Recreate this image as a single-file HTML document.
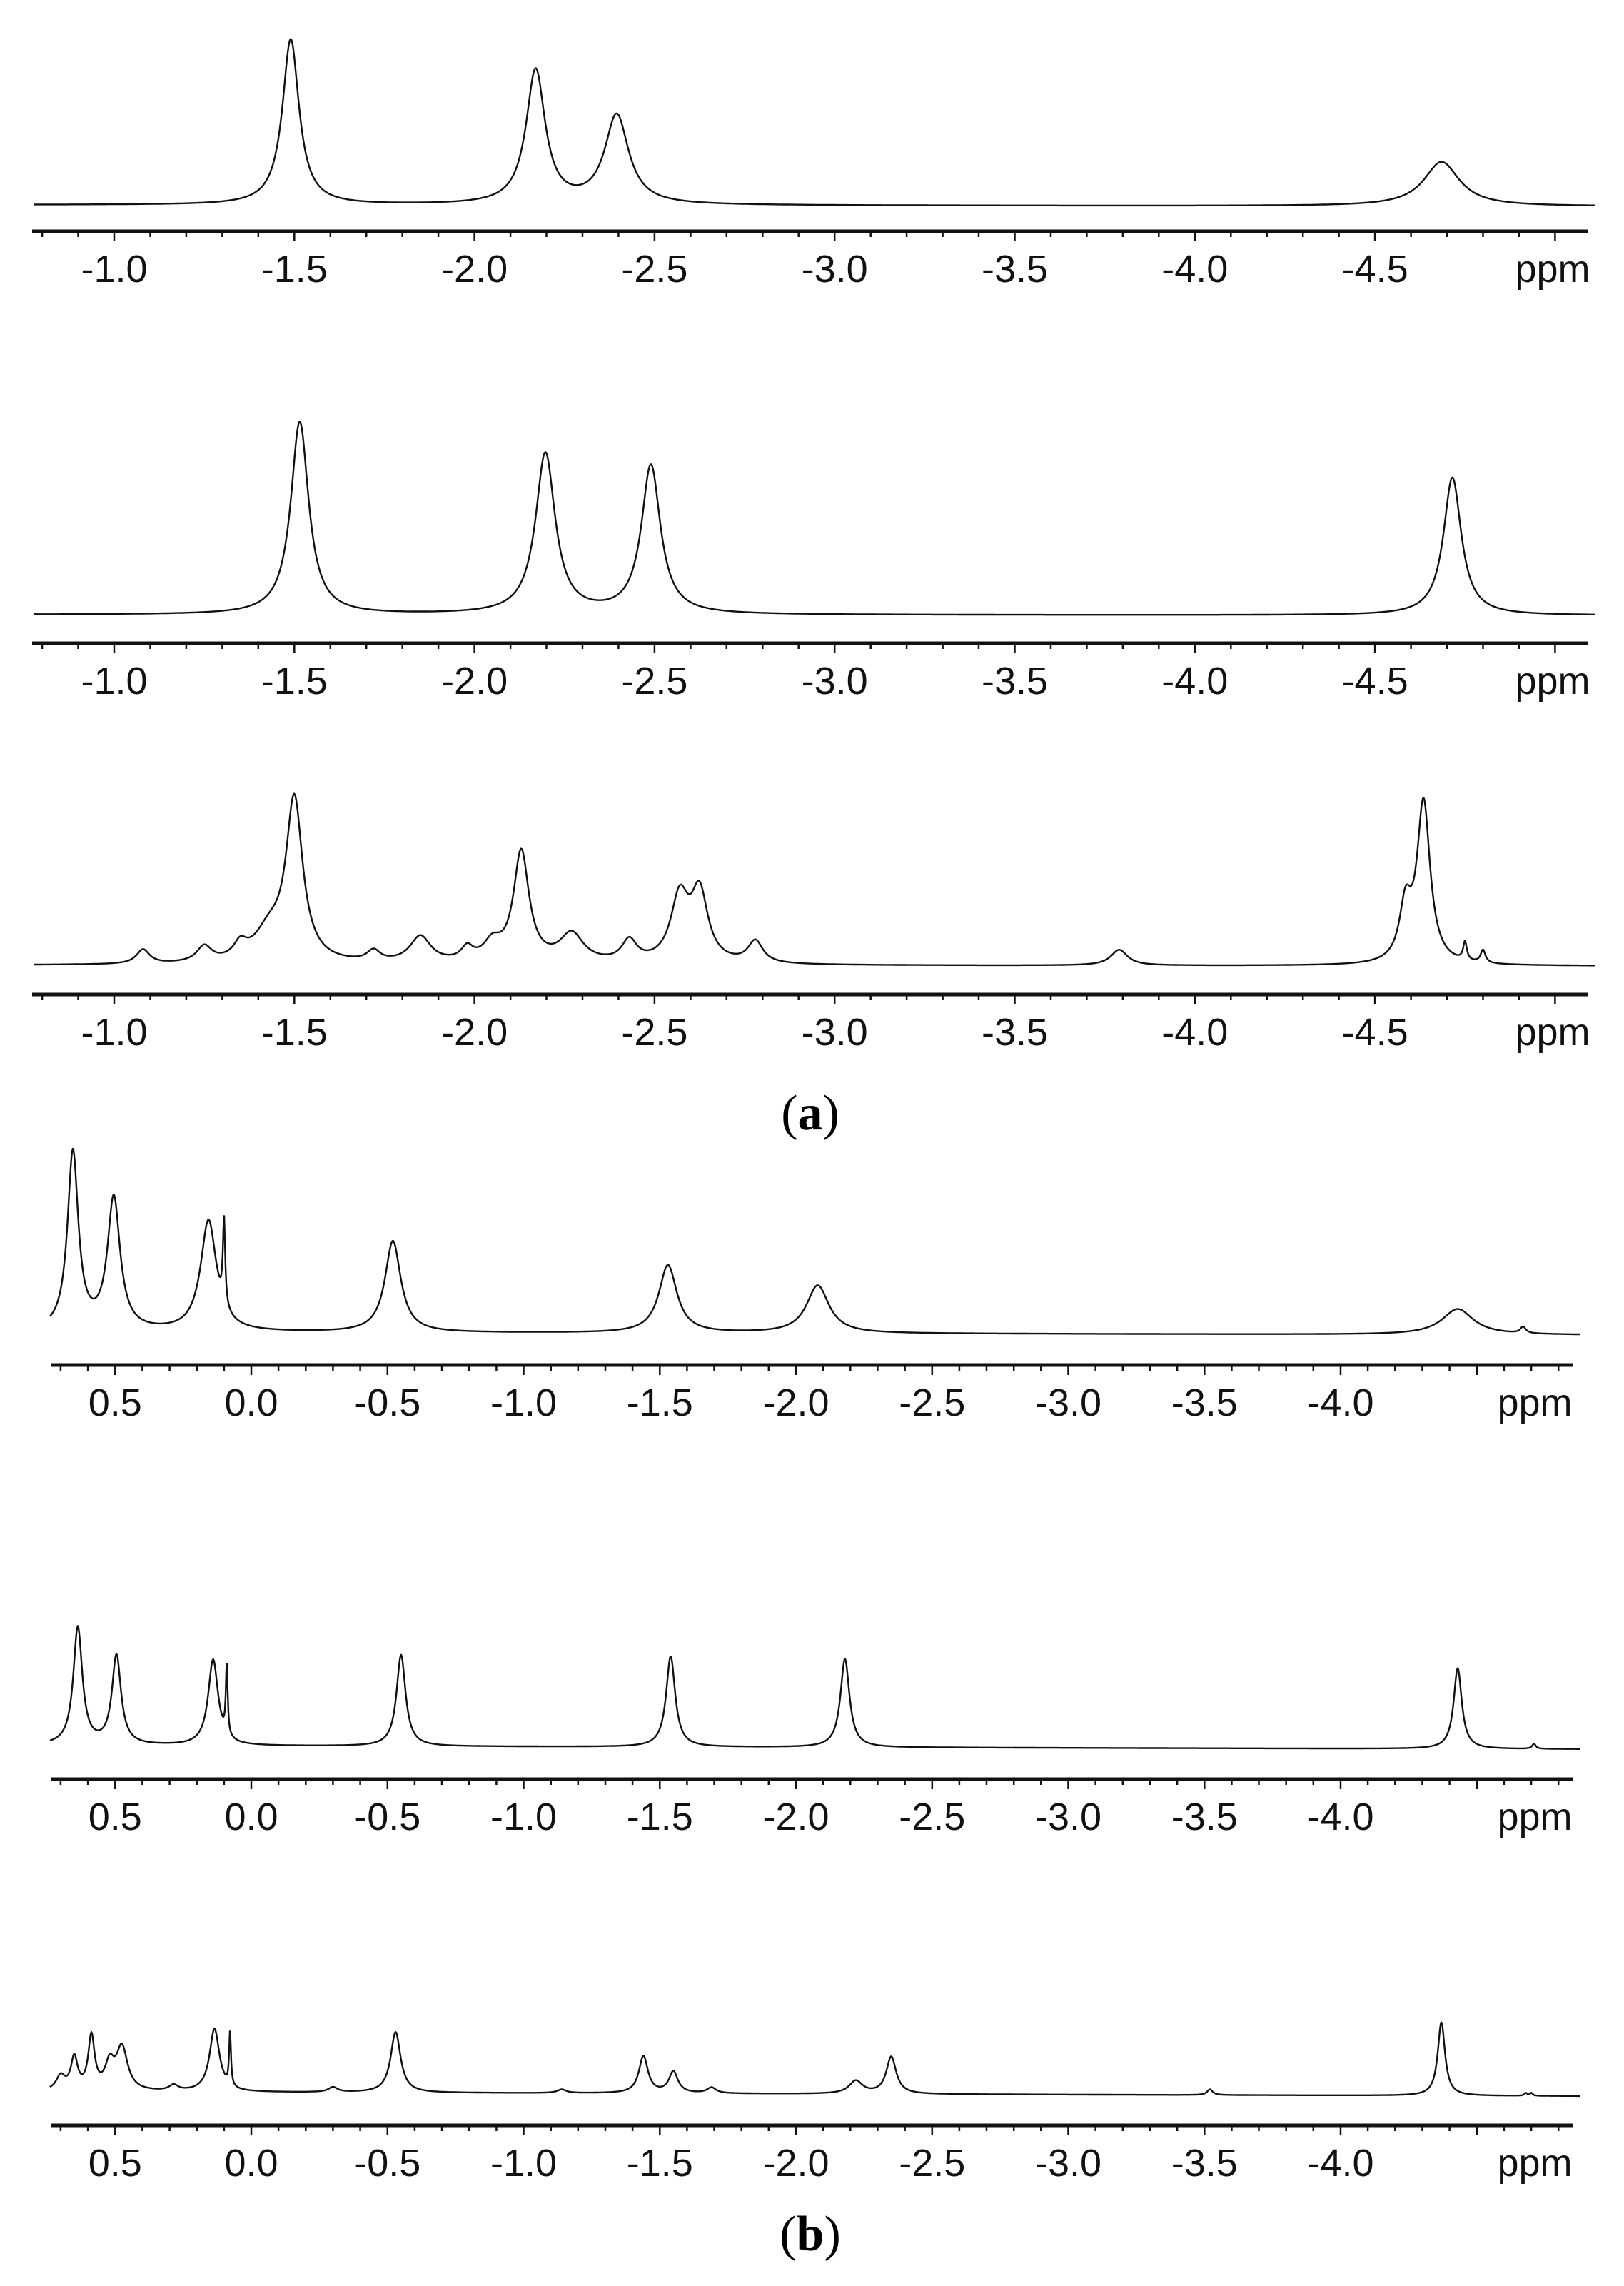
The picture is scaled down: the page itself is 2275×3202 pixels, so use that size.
<!DOCTYPE html>
<html><head><meta charset="utf-8"><style>
html,body{margin:0;padding:0;background:#fff;}
svg{display:block;}
</style></head><body>
<svg id="fig" xmlns="http://www.w3.org/2000/svg" width="2275" height="3202" viewBox="0 0 2275 3202">
<rect width="2275" height="3202" fill="#fff"/>
<text x="1135" y="1582" text-anchor="middle" font-family="Liberation Serif, serif" font-size="70">(<tspan font-weight="bold">a</tspan>)</text>
<text x="1135" y="3152" text-anchor="middle" font-family="Liberation Serif, serif" font-size="70">(<tspan font-weight="bold">b</tspan>)</text>
</svg>
<script>
// ---- data: peak positions (ppm), heights (px), half-widths (ppm) ----
const a1Pos = [-1.49, -2.17, -2.395, -4.685];
const a1Amp = [232, 188, 125, 62];
const a1Hw  = [0.028, 0.032, 0.040, 0.060];

const a2Pos = [-1.515, -2.197, -2.49, -4.715];
const a2Amp = [270, 225, 208, 193];
const a2Hw  = [0.030, 0.033, 0.032, 0.030];

const a3Pos = [-1.08, -1.25, -1.35, -1.43, -1.50, -1.72, -1.85, -1.98, -2.05, -2.13, -2.27, -2.43, -2.57, -2.625, -2.78, -3.79, -4.585, -4.635, -4.75, -4.80];
const a3Amp = [20, 22, 20, 40, 225, 15, 37, 18, 25, 155, 40, 30, 90, 95, 31, 22, 75, 225, 26, 18];
const a3Hw  = [0.022, 0.025, 0.022, 0.05, 0.028, 0.022, 0.035, 0.02, 0.03, 0.026, 0.04, 0.025, 0.03, 0.028, 0.025, 0.028, 0.02, 0.022, 0.006, 0.008];

const b1Pos = [0.655, 0.505, 0.157, 0.10, -0.52, -1.53, -2.08, -4.43, -4.67];
const b1Amp = [250, 185, 155, 120, 128, 95, 67, 36, 9];
const b1Hw  = [0.024, 0.028, 0.035, 0.005, 0.035, 0.04, 0.05, 0.07, 0.012];

const b2Pos = [0.637, 0.495, 0.14, 0.09, -0.55, -1.54, -2.18, -4.43, -4.71];
const b2Amp = [165, 125, 120, 100, 128, 127, 124, 113, 7];
const b2Hw  = [0.02, 0.02, 0.022, 0.004, 0.02, 0.02, 0.02, 0.018, 0.008];

const b3Pos = [0.70, 0.65, 0.587, 0.52, 0.475, 0.285, 0.135, 0.078, -0.30, -0.53, -1.14, -1.44, -1.55, -1.69, -2.22, -2.35, -3.52, -4.37, -4.68, -4.70];
const b3Amp = [20, 45, 75, 35, 60, 8, 88, 75, 7, 85, 5, 52, 30, 8, 18, 52, 8, 103, 4, 4];
const b3Hw  = [0.02, 0.015, 0.014, 0.02, 0.025, 0.02, 0.022, 0.004, 0.02, 0.022, 0.02, 0.02, 0.02, 0.02, 0.03, 0.022, 0.012, 0.016, 0.006, 0.006];

const aTicks = ["-1.0", "-1.5", "-2.0", "-2.5", "-3.0", "-3.5", "-4.0", "-4.5"];
const bTicks = ["0.5", "0.0", "-0.5", "-1.0", "-1.5", "-2.0", "-2.5", "-3.0", "-3.5", "-4.0"];

// ---- layout ----
const NS = "http://www.w3.org/2000/svg";
const svg = document.getElementById('fig');
const xa = p => 160 + (-1 - p) * 504.6;
const xb = p => 352 - p * 381.5;

const panels = [
  {name:'spectrum-a1', pos:a1Pos, amp:a1Amp, hw:a1Hw, xf:xa, base:[287,289], axisY:324, x0:47, x1:2235, ticks:aTicks, tMin:-5.0, tMax:-0.8, ax0:45, ax1:2225, ppmX:2175},
  {name:'spectrum-a2', pos:a2Pos, amp:a2Amp, hw:a2Hw, xf:xa, base:[861,862], axisY:901, x0:47, x1:2235, ticks:aTicks, tMin:-5.0, tMax:-0.8, ax0:45, ax1:2225, ppmX:2175},
  {name:'spectrum-a3', pos:a3Pos, amp:a3Amp, hw:a3Hw, xf:xa, base:[1352,1353], axisY:1393, x0:47, x1:2235, ticks:aTicks, tMin:-5.0, tMax:-0.8, ax0:45, ax1:2225, ppmX:2175},
  {name:'spectrum-b1', pos:b1Pos, amp:b1Amp, hw:b1Hw, xf:xb, base:[1866,1870], axisY:1912, x0:70, x1:2213, ticks:bTicks, tMin:-4.8, tMax:0.7, ax0:71, ax1:2204, ppmX:2150},
  {name:'spectrum-b2', pos:b2Pos, amp:b2Amp, hw:b2Hw, xf:xb, base:[2445,2450], axisY:2492, x0:70, x1:2213, ticks:bTicks, tMin:-4.8, tMax:0.7, ax0:71, ax1:2204, ppmX:2150},
  {name:'spectrum-b3', pos:b3Pos, amp:b3Amp, hw:b3Hw, xf:xb, base:[2930,2936], axisY:2977, x0:70, x1:2213, ticks:bTicks, tMin:-4.8, tMax:0.7, ax0:71, ax1:2204, ppmX:2150}
];

panels.forEach(P => {
  const g = document.createElementNS(NS, 'g');
  
  
  svg.appendChild(g);
  // spectrum line
  let d = '';
  for (let x = P.x0; x <= P.x1; x++) {
    // invert x -> ppm numerically via two points of the axis function
    const pA = 0, pB = -1;
    const xA = P.xf(pA), xB = P.xf(pB);
    const p = pA + (x - xA) * (pB - pA) / (xB - xA);
    let y = 0;
    for (let i = 0; i < P.pos.length; i++) {
      const u = (p - P.pos[i]) / P.hw[i];
      y += P.amp[i] / (1 + u * u);
    }
    const t = (x - P.x0) / (P.x1 - P.x0);
    const b = P.base[0] + (P.base[1] - P.base[0]) * t;
    d += (x === P.x0 ? 'M' : 'L') + x + ' ' + (b - y).toFixed(1);
  }
  const path = document.createElementNS(NS, 'path');
  
  
  path.setAttribute('d', d);
  path.setAttribute('fill', 'none');
  path.setAttribute('stroke', '#111');
  path.setAttribute('stroke-width', '2.4');
  path.setAttribute('stroke-linejoin', 'round');
  g.appendChild(path);
  // axis line
  const ax = document.createElementNS(NS, 'line');
  
  
  ax.setAttribute('x1', P.ax0); ax.setAttribute('x2', P.ax1);
  ax.setAttribute('y1', P.axisY); ax.setAttribute('y2', P.axisY);
  ax.setAttribute('stroke', '#111'); ax.setAttribute('stroke-width', '5');
  g.appendChild(ax);
  // ticks
  for (let k = Math.round(P.tMin * 10); k <= Math.round(P.tMax * 10); k++) {
    const p = k / 10;
    const x = P.xf(p);
    const major = k % 5 === 0;
    const tk = document.createElementNS(NS, 'line');
    
    
    tk.setAttribute('x1', x.toFixed(1)); tk.setAttribute('x2', x.toFixed(1));
    tk.setAttribute('y1', P.axisY); tk.setAttribute('y2', P.axisY + (major ? 14 : 8));
    tk.setAttribute('stroke', '#111'); tk.setAttribute('stroke-width', '2.5');
    g.appendChild(tk);
  }
  P.ticks.forEach(lbl => {
    const t = document.createElementNS(NS, 'text');
    
    
    t.setAttribute('x', P.xf(parseFloat(lbl)).toFixed(1));
    t.setAttribute('y', P.axisY + 71);
    t.setAttribute('text-anchor', 'middle');
    t.setAttribute('font-family', 'Liberation Sans, sans-serif');
    t.setAttribute('font-size', '54');
    t.setAttribute('fill', '#111');
    t.textContent = lbl;
    g.appendChild(t);
  });
  const u = document.createElementNS(NS, 'text');
  
  
  u.setAttribute('x', P.ppmX);
  u.setAttribute('y', P.axisY + 71);
  u.setAttribute('text-anchor', 'middle');
  u.setAttribute('font-family', 'Liberation Sans, sans-serif');
  u.setAttribute('font-size', '54');
  u.setAttribute('fill', '#111');
  u.textContent = 'ppm';
  g.appendChild(u);
});
</script>
</body></html>
